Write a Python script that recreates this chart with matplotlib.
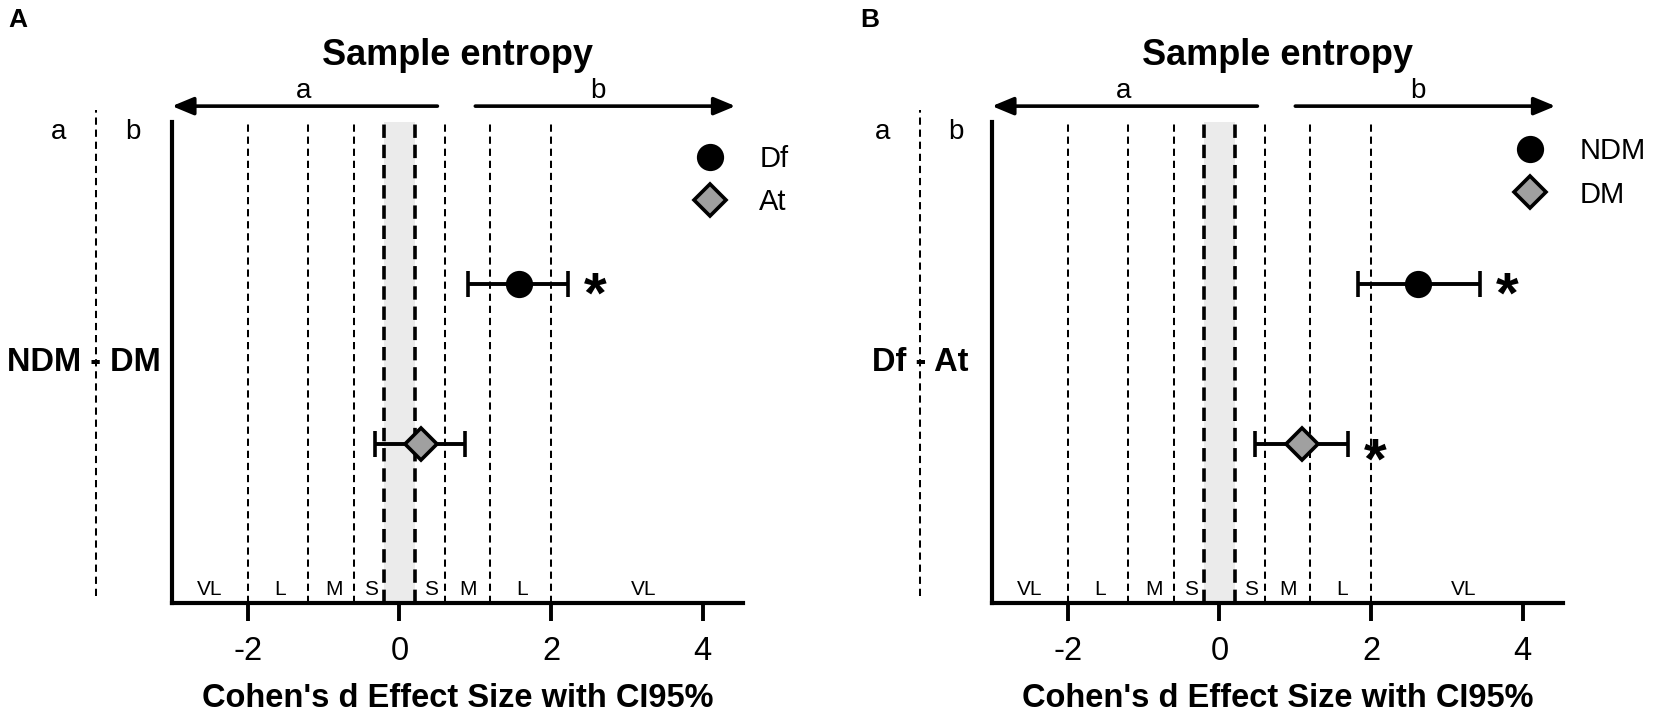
import matplotlib
matplotlib.use('Agg')
import matplotlib.pyplot as plt
from matplotlib.lines import Line2D

plt.rcParams['font.family'] = ['Liberation Sans', 'DejaVu Sans']

# ---------------- data ----------------
panel_letters = ['A', 'B']
panel_titles = ['Sample entropy', 'Sample entropy']
comparisons = ['NDM - DM', 'Df - At']
series_names = [['Df', 'At'], ['NDM', 'DM']]
effect = [[1.57, 0.28], [2.62, 1.09]]
ci_low = [[0.90, -0.32], [1.82, 0.47]]
ci_high = [[2.22, 0.87], [3.43, 1.69]]
significant = [[True, False], [True, True]]
row_pos = [0.663, 0.331]
thresholds = [-2, -1.2, -0.6, -0.2, 0.2, 0.6, 1.2, 2]
magnitude_labels = ['VL', 'L', 'M', 'S', 'S', 'M', 'L', 'VL']
magnitude_pos = [-2.5, -1.57, -0.87, -0.38, 0.42, 0.9, 1.62, 3.22]
xticks = [-2, 0, 2, 4]
x_label = "Cohen's d Effect Size with CI95%"
direction_labels = ['a', 'b']

# ---------------- style ----------------
markers = ['o', 'D']
marker_sizes = [17, 16.5]
face_colors = ['black', '#A0A0A0']
star_dy = [[0, 0], [0, -6]]          # pixel offset of the asterisk
legend_top = [0.952, 0.968]

fig = plt.figure(figsize=(16.54, 7.21), dpi=100)
FW, FH = 1654, 721
ax_lefts = [172, 992]
ax_w, ax_bottom, ax_h = 571, 118, 481
letter_x = [18, 870]
guide_x = [-4.0, -3.95]
arrow_style = '-|>,head_length=0.65,head_width=0.27'

for p in range(2):
    ax = fig.add_axes([ax_lefts[p] / FW, ax_bottom / FH, ax_w / FW, ax_h / FH])
    ax.set_xlim(-3, 4.53)
    ax.set_ylim(0, 1)

    # negligible band and magnitude thresholds
    ax.axvspan(-0.2, 0.2, color='#EBEBEB', lw=0, zorder=0)
    for t in thresholds:
        thick = abs(t) == 0.2
        ax.axvline(t, color='black', lw=2.6 if thick else 1.45,
                   dashes=(3.7, 1.9) if thick else (3.6, 2.4), zorder=1)
    for lab, xp in zip(magnitude_labels, magnitude_pos):
        ax.text(xp, 0.029, lab, ha='center', va='center', fontsize=15, zorder=2)

    # effect sizes with 95% CI
    handles = []
    for i in range(2):
        e = effect[p][i]
        lo, hi = ci_low[p][i], ci_high[p][i]
        ax.errorbar([e], [row_pos[i]], xerr=[[e - lo], [hi - e]],
                    fmt=markers[i], ms=marker_sizes[i], mfc=face_colors[i],
                    mec='black', mew=2.6, ecolor='black', elinewidth=2.8,
                    capsize=9.5, capthick=2.8, zorder=5)
        if significant[p][i]:
            ax.annotate('*', xy=(hi, row_pos[i]),
                        xytext=(20, -20.5 + star_dy[p][i] * 0.72),
                        textcoords='offset points', ha='center', va='baseline',
                        fontsize=42, fontweight='bold', annotation_clip=False)
        handles.append(Line2D([], [], ls='none', marker=markers[i], ms=marker_sizes[i],
                              mfc=face_colors[i], mec='black', mew=2.6,
                              label=series_names[p][i]))
    ax.legend(handles=handles, loc='upper left', bbox_to_anchor=(0.916, legend_top[p]),
              frameon=False, fontsize=21, handlelength=1.0, handletextpad=1.2,
              labelspacing=0.52, borderpad=0, borderaxespad=0)

    # direction arrows above the plot
    arrow_y = 1.033
    ax.annotate('', xy=(-3.0, arrow_y), xytext=(0.5, arrow_y),
                arrowprops=dict(arrowstyle=arrow_style, mutation_scale=20, lw=2.6,
                                color='black', shrinkA=0, shrinkB=0),
                annotation_clip=False)
    ax.annotate('', xy=(4.43, arrow_y), xytext=(1.0, arrow_y),
                arrowprops=dict(arrowstyle=arrow_style, mutation_scale=20, lw=2.6,
                                color='black', shrinkA=0, shrinkB=0),
                annotation_clip=False)
    ax.text(-1.27, 1.064, direction_labels[0], ha='center', va='center', fontsize=20, clip_on=False)
    ax.text(2.61, 1.064, direction_labels[1], ha='center', va='center', fontsize=20, clip_on=False)

    # a | b guide on the left
    gx = guide_x[p]
    ax.plot([gx, gx], [0.015, 1.025], color='black', lw=1.45, dashes=(3.6, 2.4), clip_on=False)
    ax.text(gx - 0.49, 0.979, direction_labels[0], ha='center', va='center', fontsize=20, clip_on=False)
    ax.text(gx + 0.48, 0.979, direction_labels[1], ha='center', va='center', fontsize=20, clip_on=False)

    # axes styling
    for s in ['top', 'right']:
        ax.spines[s].set_visible(False)
    for s in ['left', 'bottom']:
        ax.spines[s].set_linewidth(3)
    ax.set_yticks([])
    ax.set_xticks(xticks)
    ax.set_xticklabels([str(t) for t in xticks])
    ax.tick_params(axis='x', length=13, width=2.8, labelsize=23.5, pad=11)
    ax.set_xlabel(x_label, fontsize=23.5, fontweight='bold', labelpad=11)
    ax.set_ylabel(comparisons[p], rotation=0, fontsize=23.5, fontweight='bold',
                  ha='center', va='center')
    hyphen_shift = 0.16 if p == 0 else 0.0
    ax.yaxis.set_label_coords((gx - hyphen_shift + 3) / 7.53, 0.5)
    ax.set_title(panel_titles[p], fontsize=26, fontweight='bold', pad=41)

    fig.text(letter_x[p] / FW, 1 - 20 / FH, panel_letters[p], ha='center', va='center',
             fontsize=19, fontweight='bold')

fig.savefig('out.png', dpi=100)
